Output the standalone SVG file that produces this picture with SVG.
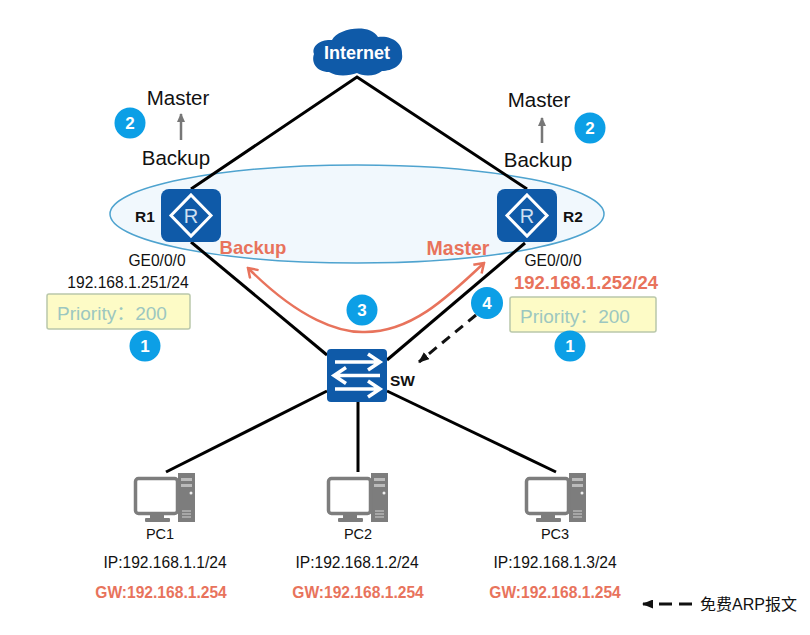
<svg xmlns="http://www.w3.org/2000/svg" width="810" height="635" viewBox="0 0 810 635">
<style>
text{font-family:"Liberation Sans","Noto Sans CJK SC",sans-serif;fill:#111}
.m{text-anchor:middle}
.r{font-size:20.500px}
.s{font-size:15.600px}
.p{font-size:14.500px}
.o{fill:#e8735c;font-weight:bold}
.b circle{fill:#0c9fe6}
.b text{fill:#fff;font-size:17px;font-weight:bold;text-anchor:middle}
.box{fill:#fdfbc6;stroke:#b9c8ab;stroke-width:1.500}
.pri{fill:#9cc7c0;font-size:19px}
.dev{fill:#0f5aa8}
.w{fill:none;stroke:#fff;stroke-width:3}
.link{stroke:#000;stroke-width:3;fill:none}
</style>
<defs>
<marker id="oa" markerWidth="12" markerHeight="14" refX="10" refY="7" orient="auto-start-reverse" markerUnits="userSpaceOnUse" viewBox="0 0 12 14"><path d="M1 1L10 7L1 13" fill="none" stroke="#e8735c" stroke-width="2.500"/></marker>
<marker id="ba" markerWidth="11" markerHeight="9" refX="10" refY="4.500" orient="auto" markerUnits="userSpaceOnUse"><path d="M0 0L11 4.500L0 9Z" fill="#111"/></marker>
<marker id="ga" markerWidth="9" markerHeight="8" refX="8" refY="4" orient="auto" markerUnits="userSpaceOnUse"><path d="M0 0L9 4L0 8Z" fill="#777"/></marker>
<g id="router">
<rect x="0" y="0" width="60" height="53" rx="8" class="dev"/>
<path d="M30 6L50 26.500L30 47L10 26.500Z" class="w"/>
<text x="30" y="33.500" class="m" style="fill:#cfe0f2;font-size:20px">R</text>
</g>
<g id="pc">
<path d="M178 473H195V522H178Z" fill="#7d7d7d"/>
<rect x="181" y="478" width="11" height="3" fill="#bbb"/>
<rect x="181" y="484" width="11" height="3" fill="#bbb"/>
<circle cx="191" cy="493" r="1.500" fill="#eee"/>
<path d="M182 511h9M182 514h9M182 517h9" stroke="#b5b5b5" stroke-width="1.500"/>
<rect x="135.500" y="478.500" width="42" height="35" rx="3" fill="#fff" stroke="#7d7d7d" stroke-width="3.500"/>
<path d="M150 515h14v3h-14z" fill="#7d7d7d"/>
<rect x="145" y="518" width="25" height="4" rx="1" fill="#7d7d7d"/>
</g>
</defs>
<rect width="810" height="635" fill="#fff"/>
<ellipse id="vrrp-group" cx="357" cy="214" rx="247" ry="49" fill="#f1f8fd" stroke="#4ea3cf" stroke-width="1.500"/>
<g id="connectors">
<path class="link" d="M191 189L357 77L527 189"/>
<path class="link" d="M191 242L327 355"/>
<path class="link" d="M525 243L387 360"/>
<path class="link" d="M327 391L166 472"/>
<path class="link" d="M358 401V472"/>
<path class="link" d="M387 391L556 472"/>
<path d="M248 268C300 320 340 333 365 332C410 332 445 300 484 263" fill="none" stroke="#e8735c" stroke-width="2.500" marker-start="url(#oa)" marker-end="url(#oa)"/>
<path d="M476 315L419 362" fill="none" stroke="#111" stroke-width="3" stroke-dasharray="10 7" marker-end="url(#ba)"/>
<path d="M181 140V114" stroke="#777" stroke-width="2.500" marker-end="url(#ga)"/>
<path d="M542 143V118" stroke="#777" stroke-width="2.500" marker-end="url(#ga)"/>
<path d="M692 604H643" fill="none" stroke="#111" stroke-width="3" stroke-dasharray="13 7" marker-end="url(#ba)"/>
</g>
<g id="internet">
<path d="M329 72C316 72 311 62 314 54C311 45 322 39 332 40C338 28 370 23 378 37C392 35 403 44 402 54C404 65 392 71 382 71C375 77 362 76 357 73C349 76 337 77 329 72Z" fill="#0f5aa8"/>
<text x="357" y="59" class="m" style="fill:#fff;font-size:18px;font-weight:bold">Internet</text>
</g>
<g id="r1">
<use href="#router" x="161" y="189"/>
<text x="135" y="222" style="font-size:15.500px;font-weight:bold">R1</text>
<text x="178" y="105" class="m r">Master</text>
<text x="176" y="165" class="m r">Backup</text>
<text x="157" y="266" class="m s">GE0/0/0</text>
<text x="128" y="288" class="m s">192.168.1.251/24</text>
<text x="253" y="254" class="m o" style="font-size:18.500px">Backup</text>
<rect x="47" y="294" width="143" height="35" rx="2" class="box"/>
<text x="112" y="320" class="m pri">Priority：200</text>
</g>
<g id="r2">
<use href="#router" x="497" y="189"/>
<text x="563" y="222" style="font-size:15.500px;font-weight:bold">R2</text>
<text x="539" y="107" class="m r">Master</text>
<text x="538" y="167" class="m r">Backup</text>
<text x="553" y="266" class="m s">GE0/0/0</text>
<text x="586" y="289" class="m o" style="font-size:18.500px">192.168.1.252/24</text>
<text x="458" y="255" class="m o" style="font-size:19.500px">Master</text>
<rect x="510" y="297" width="146" height="35" rx="2" class="box"/>
<text x="575" y="323" class="m pri">Priority：200</text>
</g>
<g id="sw">
<rect x="327" y="349" width="60" height="53" rx="4" class="dev"/>
<path d="M335 362H379M368 354L380 362L368 370M380 375.500H334M346 367.500L334 375.500L346 383.500M335 389H379M368 381L380 389L368 397" class="w" style="stroke-width:3.500"/>
<text x="390" y="386" style="font-size:15.500px;font-weight:bold">SW</text>
</g>
<g id="pc1">
<use href="#pc"/>
<text x="160" y="539" class="m p">PC1</text>
<text x="165" y="568" class="m s">IP:192.168.1.1/24</text>
<text x="161" y="598" class="m o s">GW:192.168.1.254</text>
</g>
<g id="pc2">
<use href="#pc" x="193"/>
<text x="358" y="539" class="m p">PC2</text>
<text x="357" y="568" class="m s">IP:192.168.1.2/24</text>
<text x="358" y="598" class="m o s">GW:192.168.1.254</text>
</g>
<g id="pc3">
<use href="#pc" x="391"/>
<text x="555" y="539" class="m p">PC3</text>
<text x="555" y="568" class="m s">IP:192.168.1.3/24</text>
<text x="555" y="598" class="m o s">GW:192.168.1.254</text>
</g>
<g id="badges" class="b">
<circle cx="130" cy="123" r="15.500"/><text x="130" y="129">2</text>
<circle cx="590" cy="128" r="15.500"/><text x="590" y="134">2</text>
<circle cx="145" cy="346" r="15.500"/><text x="145" y="352">1</text>
<circle cx="570" cy="346" r="15.500"/><text x="570" y="352">1</text>
<circle cx="362" cy="310" r="15.500"/><text x="362" y="316">3</text>
<circle cx="487" cy="303" r="16"/><text x="487" y="309">4</text>
</g>
<text id="legend" x="700" y="610" style="font-size:16px">免费ARP报文</text>
</svg>
